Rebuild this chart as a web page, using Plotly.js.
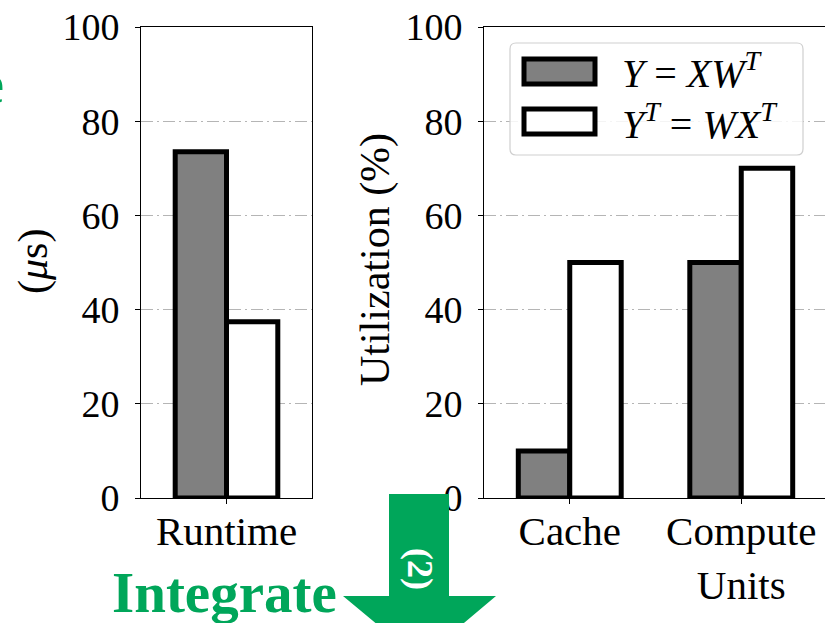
<!DOCTYPE html>
<html>
<head>
<meta charset="utf-8">
<script src="https://cdn.plot.ly/plotly-3.0.1.min.js"></script>
<style>
html,body{margin:0;padding:0;overflow:hidden;background:#fff;}
#chart{width:830px;height:623px;}
</style>
</head>
<body>
<div id="chart"></div>
<script>
// ---- data ----
const runtimeCategories = ['Runtime'];
const runtimeXWT = [73.5];     // Y = XW^T  (µs)
const runtimeWXT = [37.4];     // Y^T = WX^T (µs)

const utilCategories = ['Cache', 'Compute<br>Units'];
const utilXWT = [10, 50];      // %
const utilWXT = [50, 70];      // %

const seriesNames = ['<i>Y</i> = <i>XW</i><sup><i>T</i></sup>', '<i>Y</i><sup><i>T</i></sup> = <i>WX</i><sup><i>T</i></sup>'];
const yTicks = [0, 20, 40, 60, 80, 100];

// ---- geometry helpers (pixel -> paper) ----
const W = 830, H = 623;
const px = x => x / W;
const py = y => 1 - y / H;

const serif = '"Liberation Serif", "DejaVu Serif", serif';
const green = '#00A65A';
const gray = '#808080';

const barLine = {color: '#000', width: 5};

const traces = [
  {type: 'bar', x: runtimeCategories, y: runtimeXWT, name: seriesNames[0], xaxis: 'x', yaxis: 'y',
   marker: {color: gray, line: barLine}, showlegend: false, hoverinfo: 'skip'},
  {type: 'bar', x: runtimeCategories, y: runtimeWXT, name: seriesNames[1], xaxis: 'x', yaxis: 'y',
   marker: {color: '#fff', line: barLine}, showlegend: false, hoverinfo: 'skip'},
  {type: 'bar', x: utilCategories, y: utilXWT, name: seriesNames[0], xaxis: 'x2', yaxis: 'y2',
   marker: {color: gray, line: barLine}, showlegend: false, hoverinfo: 'skip'},
  {type: 'bar', x: utilCategories, y: utilWXT, name: seriesNames[1], xaxis: 'x2', yaxis: 'y2',
   marker: {color: '#fff', line: barLine}, showlegend: false, hoverinfo: 'skip'}
];

const yAxisBase = {
  range: [0, 100], tickvals: yTicks, ticktext: yTicks.map(String),
  showline: true, mirror: true, linecolor: '#000', linewidth: 1,
  ticks: 'outside', ticklen: 5, tickcolor: '#000', tickwidth: 1,
  showgrid: true, gridcolor: '#b5b5b5', gridwidth: 1, griddash: '12px,4px,2px,4px',
  zeroline: false, ticklabelstandoff: 8,
  tickfont: {family: serif, size: 38, color: '#000'},
  domain: [py(498), py(27)]
};
const xAxisBase = {
  showline: true, mirror: true, linecolor: '#000', linewidth: 1,
  ticks: 'outside', ticklen: 5, tickcolor: '#000', tickwidth: 1,
  showgrid: false, zeroline: false, ticklabelstandoff: -8,
  tickfont: {family: serif, size: 41, color: '#000'}
};

// custom legend (rounded box + swatches)
function roundRect(x0, y0, x1, y1, r) {
  const X0 = px(x0), X1 = px(x1), Y0 = py(y0), Y1 = py(y1);
  const rx = r / W, ry = r / H;
  return `M ${X0 + rx},${Y0} L ${X1 - rx},${Y0} Q ${X1},${Y0} ${X1},${Y0 - ry} L ${X1},${Y1 + ry} Q ${X1},${Y1} ${X1 - rx},${Y1} L ${X0 + rx},${Y1} Q ${X0},${Y1} ${X0},${Y1 + ry} L ${X0},${Y0 - ry} Q ${X0},${Y0} ${X0 + rx},${Y0} Z`;
}

const arrowPts = [[389, 494], [449, 494], [449, 596], [496, 596], [420, 660], [343, 596], [389, 596]];
const arrowPath = 'M ' + arrowPts.map(p => px(p[0]) + ',' + py(p[1])).join(' L ') + ' Z';

const shapes = [
  {type: 'path', xref: 'paper', yref: 'paper', path: roundRect(510, 43, 803, 155, 6),
   fillcolor: 'rgba(255,255,255,0.85)', line: {color: '#cfcfcf', width: 1.2}},
  {type: 'rect', xref: 'paper', yref: 'paper', x0: px(524), x1: px(595), y0: py(59), y1: py(84),
   fillcolor: gray, line: {color: '#000', width: 5}},
  {type: 'rect', xref: 'paper', yref: 'paper', x0: px(524), x1: px(595), y0: py(109), y1: py(134),
   fillcolor: '#fff', line: {color: '#000', width: 5}},
  {type: 'path', xref: 'paper', yref: 'paper', path: arrowPath, fillcolor: green, line: {width: 0}}
];

const annotations = [
  {xref: 'paper', yref: 'paper', x: px(620), y: py(70), xanchor: 'left', yanchor: 'middle', showarrow: false,
   text: seriesNames[0], font: {family: serif, size: 40, color: '#000'}},
  {xref: 'paper', yref: 'paper', x: px(620), y: py(121), xanchor: 'left', yanchor: 'middle', showarrow: false,
   text: seriesNames[1], font: {family: serif, size: 40, color: '#000'}},
  {xref: 'paper', yref: 'paper', x: px(375), y: py(260), xanchor: 'center', yanchor: 'middle', showarrow: false,
   textangle: -90, text: 'Utilization (%)', font: {family: serif, size: 42, color: '#000'}},
  {xref: 'paper', yref: 'paper', x: px(33), y: py(262), xanchor: 'center', yanchor: 'middle', showarrow: false,
   textangle: -90, text: '(<i>μ</i>s)', font: {family: serif, size: 42, color: '#000'}},
  {xref: 'paper', yref: 'paper', x: px(6), y: py(84), xanchor: 'right', yanchor: 'middle', showarrow: false,
   text: '<b>e</b>', font: {family: serif, size: 56, color: green}},
  {xref: 'paper', yref: 'paper', x: px(224), y: py(592), xanchor: 'center', yanchor: 'middle', showarrow: false,
   text: '<b>Integrate</b>', font: {family: serif, size: 57, color: green}},
  {xref: 'paper', yref: 'paper', x: px(420), y: py(569), xanchor: 'center', yanchor: 'middle', showarrow: false,
   textangle: 90, text: '<b>(2)</b>', font: {family: serif, size: 36, color: '#fff'}}
];

const layout = {
  width: W, height: H,
  margin: {l: 0, r: 0, t: 0, b: 0},
  paper_bgcolor: '#fff', plot_bgcolor: '#fff',
  barmode: 'group', bargap: 0.4, bargroupgap: 0,
  showlegend: false,
  xaxis: Object.assign({}, xAxisBase, {domain: [px(141), px(312)], range: [-0.5, 0.5], anchor: 'y'}),
  yaxis: Object.assign({}, yAxisBase, {anchor: 'x'}),
  xaxis2: Object.assign({}, xAxisBase, {domain: [px(484), px(827)], range: [-0.5, 1.5], anchor: 'y2'}),
  yaxis2: Object.assign({}, yAxisBase, {anchor: 'x2'}),
  shapes: shapes,
  annotations: annotations
};

Plotly.newPlot('chart', traces, layout, {displayModeBar: false, staticPlot: true});
</script>
</body>
</html>
